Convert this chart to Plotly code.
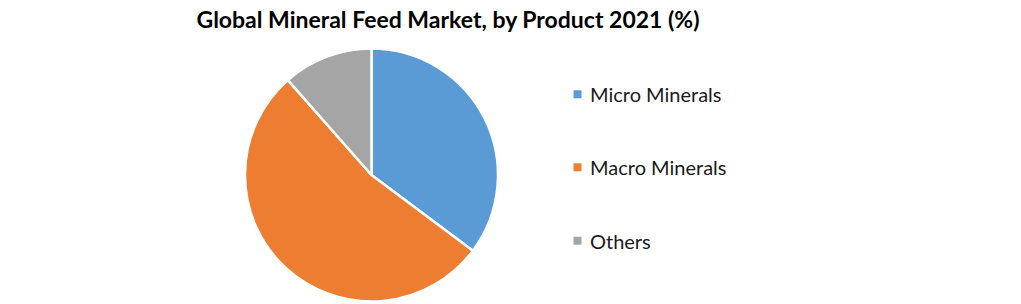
import plotly.graph_objects as go

labels = ["Micro Minerals", "Macro Minerals", "Others"]
values = [35.2, 53.3, 11.5]
colors = ["#5B9BD5", "#ED7D31", "#A5A5A5"]
title_text = "Global Mineral Feed Market, by Product 2021 (%)"

W, H = 1021, 304
FONT = "Lato"

fig = go.Figure()
fig.add_trace(go.Pie(
    labels=labels, values=values, sort=False, direction="clockwise", rotation=0,
    marker=dict(colors=colors, line=dict(color="white", width=2.5)),
    textinfo="none", hoverinfo="label+percent", showlegend=False,
    domain=dict(x=[245 / W, 498 / W], y=[(H - 301.5) / H, (H - 48.5) / H]),
))

# legend drawn from the data lists
leg_x_txt = 587.5 / W
leg_y = [94.3, 167.3, 240.7]
shapes, annotations = [], []
for lab, col, yy in zip(labels, colors, leg_y):
    yc = (H - yy) / H
    shapes.append(dict(type="rect", xref="paper", yref="paper",
                       x0=(573.5) / W, x1=(581.5) / W, y0=yc - 4 / H, y1=yc + 4 / H,
                       fillcolor=col, line=dict(width=0)))
    annotations.append(dict(text=lab, xref="paper", yref="paper", x=leg_x_txt, y=yc,
                            xanchor="left", yanchor="middle", showarrow=False,
                            font=dict(family=FONT, size=20, color="#1a1a1a")))

fig.update_layout(
    width=W, height=H, margin=dict(l=0, r=0, t=0, b=0),
    paper_bgcolor="white", plot_bgcolor="white",
    title=dict(text="<b>" + title_text + "</b>", x=448 / W, xanchor="center",
               y=(H - 20) / H, yanchor="middle",
               font=dict(family=FONT, size=23, color="black")),
    shapes=shapes, annotations=annotations,
)

fig.write_html("out.html")
